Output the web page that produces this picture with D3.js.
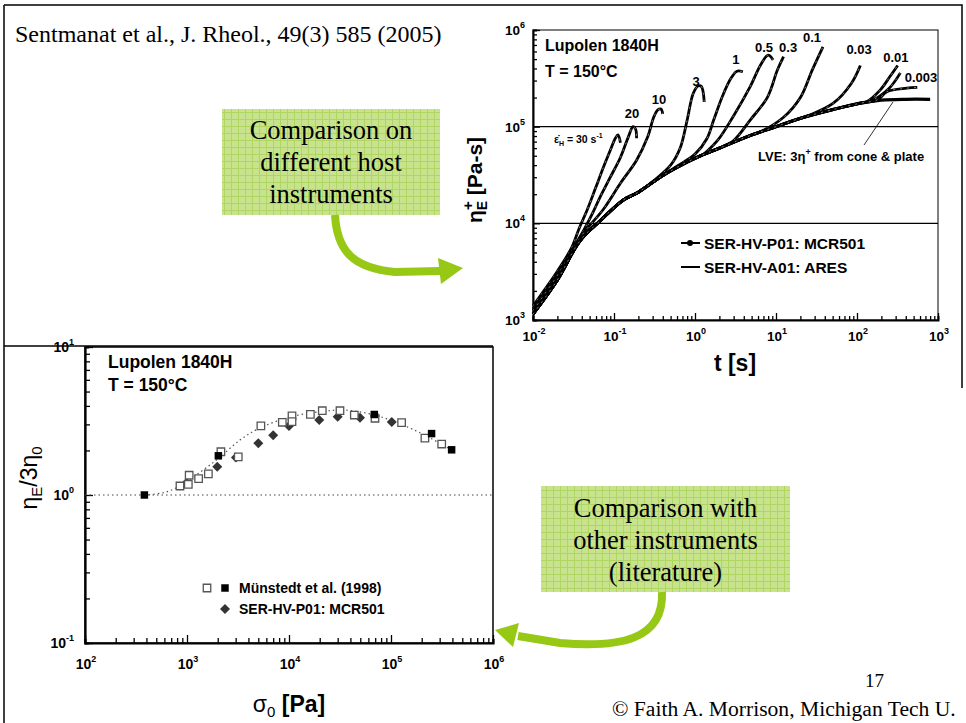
<!DOCTYPE html>
<html>
<head>
<meta charset="utf-8">
<script src="https://cdn.jsdelivr.net/npm/d3@7"></script>
<style>
  body { margin: 0; background: #fff; }
  svg { display: block; }
  .lbl { font-family: "Liberation Sans", Arial, sans-serif; font-weight: bold; }
  .serif { font-family: "Liberation Serif", "Times New Roman", serif; }
</style>
</head>
<body>
<div id="slide"></div>
<script>
// ---- top chart: eta_E+ vs t (log-log) ----
var lveT   = [0.01, 0.02, 0.038, 0.068, 0.13, 0.2, 0.37, 0.6, 1.17, 2, 5, 10, 20, 50, 110, 200, 400, 800];
var lveEta = [1.15e3, 2.6e3, 6.6e3, 1.07e4, 1.74e4, 2.1e4, 3.0e4, 3.8e4, 5.0e4, 6.0e4, 8.2e4, 1.0e5, 1.22e5, 1.5e5, 1.75e5, 1.88e5, 1.92e5, 1.92e5];

var rateLabels = ["30", "20", "10", "3", "1", "0.5", "0.3", "0.1", "0.03", "0.01", "0.01", "0.003"];
var rateCurves = [
  [[0.01,1.4e3],[0.02,3.2e3],[0.03,5.6e3],[0.037,8.8e3],[0.047,1.4e4],[0.059,2.3e4],[0.074,3.8e4],[0.09,5.7e4],[0.104,7.6e4],[0.112,8.2e4],[0.12,6.8e4]],
  [[0.01,1.3e3],[0.02,3.0e3],[0.04,7.8e3],[0.055,1.3e4],[0.068,1.9e4],[0.09,3.0e4],[0.12,4.8e4],[0.15,7.8e4],[0.172,1.0e5],[0.185,9.4e4],[0.19,7.6e4]],
  [[0.01,1.25e3],[0.02,2.9e3],[0.04,7.5e3],[0.074,1.4e4],[0.12,2.6e4],[0.19,4.5e4],[0.26,7.8e4],[0.31,1.26e5],[0.35,1.5e5],[0.38,1.52e5],[0.4,1.35e5]],
  [[0.3,2.7e4],[0.5,4.0e4],[0.66,6.1e4],[0.8,1.17e5],[0.95,2.2e5],[1.1,2.65e5],[1.2,2.6e5],[1.3,1.8e5]],
  [[0.6,3.9e4],[1.0,5.2e4],[1.4,7.5e4],[1.7,1.17e5],[2.2,2.1e5],[2.8,3.2e5],[3.3,3.75e5],[3.9,3.7e5]],
  [[1.2,5.0e4],[1.9,7.2e4],[3.0,1.3e5],[4.8,2.6e5],[6.5,4.4e5],[8.0,5.5e5],[9.2,4.9e5]],
  [[2.0,6.0e4],[3.0,7.2e4],[4.8,1.17e5],[7.8,2.0e5],[10.4,3.85e5],[12.4,5.3e5]],
  [[6,8.6e4],[12.4,1.25e5],[20,2.0e5],[28,3.85e5],[38,6.7e5]],
  [[25,1.3e5],[51,1.75e5],[85,2.8e5],[110,4.3e5]],
  [[130,1.8e5],[194,2.4e5],[255,3.3e5],[318,4.3e5]],
  [[150,1.85e5],[250,2.5e5],[343,3.6e5]],
  [[180,1.9e5],[234,2.3e5],[410,2.5e5],[555,2.55e5]]
];
// where each rate number sits [t, eta] (text baseline)
var rateLabelAt = [null, [0.167,1.22e5],[0.36,1.71e5],[1.03,2.63e5],[3.2,4.45e5],[7.1,5.92e5],[14.1,5.92e5],[27.8,7.5e5],[106,5.64e5],[302,4.66e5],null,[617,2.9e5]];

// ---- bottom chart: eta_E/3eta_0 vs sigma_0 ----
var openSig   = [853, 1050, 1030, 1300, 1620, 2150, 3180, 5300, 8600, 10700, 10700, 16200, 21200, 31600, 43700, 69700, 127000, 215000, 314000];
var openVal   = [1.15, 1.36, 1.18, 1.29, 1.39, 1.96, 1.81, 2.93, 3.1, 3.42, 3.13, 3.51, 3.71, 3.71, 3.47, 3.3, 3.08, 2.42, 2.21];
var filledSig = [382, 2030, 68600, 250000, 393000];
var filledVal = [1.0, 1.84, 3.5, 2.6, 2.02];
var serSig    = [990, 1980, 3020, 5000, 7000, 10000, 19800, 30000, 49700, 69700, 101700];
var serVal    = [1.21, 1.55, 1.79, 2.24, 2.53, 2.93, 3.21, 3.38, 3.33, 3.42, 3.11];
var fitSig    = [382, 600, 850, 1200, 2000, 3300, 5000, 10000, 20000, 35000, 60000, 100000, 200000, 400000];
var fitVal    = [1.0, 1.04, 1.15, 1.35, 1.75, 2.35, 2.8, 3.35, 3.65, 3.75, 3.55, 3.2, 2.6, 2.0];

var W = 966, H = 723;
var svg = d3.select("#slide").append("svg").attr("width", W).attr("height", H);
var green = "#97c815";

// grid pattern for the callout boxes
var defs = svg.append("defs");
var pat = defs.append("pattern").attr("id","grid").attr("width",7).attr("height",7).attr("patternUnits","userSpaceOnUse");
pat.append("rect").attr("width",7).attr("height",7).attr("fill","#c8e38d");
pat.append("path").attr("d","M0,0.5H7M0.5,0V7").attr("stroke","#b0d563").attr("stroke-width",1);

// slide frame
svg.append("path").attr("d","M4,5H962V388").attr("fill","none").attr("stroke","#000").attr("stroke-width",1.5);
svg.append("path").attr("d","M4,5V723").attr("fill","none").attr("stroke","#000").attr("stroke-width",1.5);
svg.append("path").attr("d","M4,346H493").attr("fill","none").attr("stroke","#000").attr("stroke-width",1.5);

svg.append("text").attr("class","serif").attr("x",15).attr("y",42).attr("font-size",24)
  .text("Sentmanat et al., J. Rheol., 49(3) 585 (2005)");
svg.append("text").attr("class","serif").attr("x",865).attr("y",687).attr("font-size",19).text("17");
svg.append("text").attr("class","serif").attr("x",612).attr("y",716).attr("font-size",21.6)
  .text("\u00A9 Faith A. Morrison, Michigan Tech U.");

function isMajor(d){ return Math.abs(Math.log10(d) - Math.round(Math.log10(d))) < 1e-6; }
function pow10(sel, e){
  sel.append("tspan").text("10");
  sel.append("tspan").attr("dy",-7).attr("font-size",9).text(e);
}

// ================= top chart =================
var xT = d3.scaleLog().domain([1e-2, 1e3]).range([533, 938]);
var yT = d3.scaleLog().domain([1e3, 1e6]).range([320, 30]);
var gT = svg.append("g");

gT.append("rect").attr("x",533).attr("y",30).attr("width",405).attr("height",290)
  .attr("fill","none").attr("stroke","#000").attr("stroke-width",1);
[1e4, 1e5].forEach(function(v){
  gT.append("line").attr("x1",533).attr("x2",938).attr("y1",yT(v)).attr("y2",yT(v))
    .attr("stroke","#000").attr("stroke-width",1.4);
});

var axXT = gT.append("g").attr("transform","translate(0,320)")
  .call(d3.axisBottom(xT).tickValues(xT.ticks()).tickSize(-4).tickFormat(""));
var axYT = gT.append("g").attr("transform","translate(533,0)")
  .call(d3.axisLeft(yT).tickValues(yT.ticks()).tickSize(-4).tickFormat(""));
[axXT, axYT].forEach(function(a){
  a.select(".domain").attr("stroke-width",2);
  a.selectAll(".tick line").attr("stroke-width",1.3);
});
axXT.selectAll(".tick line").attr("y2", function(d){ return isMajor(d) ? -7 : -4; });
axYT.selectAll(".tick line").attr("x2", function(d){ return isMajor(d) ? 7 : 4; });

xT.ticks().filter(isMajor).forEach(function(d){
  var t = gT.append("text").attr("class","lbl").attr("x",xT(d)+1).attr("y",341)
    .attr("text-anchor","middle").attr("font-size",13.5);
  pow10(t, Math.round(Math.log10(d)));
});
yT.ticks().filter(isMajor).forEach(function(d){
  var t = gT.append("text").attr("class","lbl").attr("x",525).attr("y",yT(d)+5)
    .attr("text-anchor","end").attr("font-size",13.5);
  pow10(t, Math.round(Math.log10(d)));
});

var lineT = d3.line().x(function(p){ return xT(p[0]); }).y(function(p){ return yT(p[1]); })
  .curve(d3.curveCatmullRom.alpha(0.5));
var lvePts = lveT.map(function(t,i){ return [t, lveEta[i]]; });
gT.append("path").datum(lvePts).attr("d", lineT).attr("fill","none")
  .attr("stroke","#000").attr("stroke-width",3.2);
rateCurves.forEach(function(c){
  var pts = lvePts.filter(function(p){ return p[0] < c[0][0]; }).concat(c);
  gT.append("path").datum(pts).attr("d", lineT).attr("fill","none")
    .attr("stroke","#000").attr("stroke-width",2.8).attr("stroke-linejoin","round");
  gT.append("path").datum(pts).attr("d", lineT).attr("fill","none")
    .attr("stroke","#fff").attr("stroke-width",0.5).attr("stroke-dasharray","2,5");
});
rateLabels.forEach(function(r,i){
  if (!rateLabelAt[i]) return;
  gT.append("text").attr("class","lbl").attr("font-size",13).attr("text-anchor","middle")
    .attr("x", xT(rateLabelAt[i][0])).attr("y", yT(rateLabelAt[i][1])).text(r);
});
var eps = gT.append("text").attr("class","lbl").attr("x",554).attr("y",143).attr("font-size",10.5);
eps.append("tspan").text("\u03B5\u0307");
eps.append("tspan").attr("font-size",7).attr("dy",3).text("H");
eps.append("tspan").attr("dy",-3).text(" = 30 s");
eps.append("tspan").attr("font-size",7).attr("dy",-5).text("-1");

gT.append("text").attr("class","lbl").attr("x",545).attr("y",51).attr("font-size",16).text("Lupolen 1840H");
gT.append("text").attr("class","lbl").attr("x",545).attr("y",77).attr("font-size",16).text("T = 150\u00B0C");

var lve = gT.append("text").attr("class","lbl").attr("x",758).attr("y",161).attr("font-size",13);
lve.append("tspan").text("LVE: 3\u03B7");
lve.append("tspan").attr("font-size",9).attr("dy",-6).text("+");
lve.append("tspan").attr("dy",6).text(" from cone & plate");
gT.append("line").attr("x1",864).attr("y1",145).attr("x2",893).attr("y2",102)
  .attr("stroke","#000").attr("stroke-width",0.8);

gT.append("line").attr("x1",681).attr("x2",700).attr("y1",243).attr("y2",243).attr("stroke","#000").attr("stroke-width",2);
gT.append("circle").attr("cx",690).attr("cy",243).attr("r",3).attr("fill","#000");
gT.append("text").attr("class","lbl").attr("x",704).attr("y",248.5).attr("font-size",15.5).text("SER-HV-P01: MCR501");
gT.append("line").attr("x1",681).attr("x2",700).attr("y1",267).attr("y2",267).attr("stroke","#000").attr("stroke-width",2);
gT.append("text").attr("class","lbl").attr("x",704).attr("y",272.5).attr("font-size",15.5).text("SER-HV-A01: ARES");

var ytT = gT.append("text").attr("class","lbl").attr("font-size",21).attr("text-anchor","middle")
  .attr("transform","translate(482,180) rotate(-90)");
ytT.append("tspan").text("\u03B7");
ytT.append("tspan").attr("font-size",14).attr("dy",5).text("E");
ytT.append("tspan").attr("font-size",15).attr("dy",-14).attr("dx",-9).text("+");
ytT.append("tspan").attr("dy",9).text(" [Pa-s]");
gT.append("text").attr("class","lbl").attr("x",735).attr("y",371).attr("font-size",23)
  .attr("text-anchor","middle").text("t [s]");

// ================= bottom chart =================
var xB = d3.scaleLog().domain([1e2, 1e6]).range([85, 493]);
var yB = d3.scaleLog().domain([1e-1, 1e1]).range([643, 347]);
var gB = svg.append("g");

gB.append("rect").attr("x",85).attr("y",347).attr("width",408).attr("height",296)
  .attr("fill","none").attr("stroke","#000").attr("stroke-width",1.5);
var axXB = gB.append("g").attr("transform","translate(0,643)")
  .call(d3.axisBottom(xB).tickValues(xB.ticks()).tickSize(-4).tickFormat(""));
var axYB = gB.append("g").attr("transform","translate(85,0)")
  .call(d3.axisLeft(yB).tickValues(yB.ticks()).tickSize(-4).tickFormat(""));
[axXB, axYB].forEach(function(a){
  a.select(".domain").attr("stroke-width",2.2);
  a.selectAll(".tick line").attr("stroke-width",1.3);
});
axXB.selectAll(".tick line").attr("y2", function(d){ return isMajor(d) ? -8 : -5; });
axYB.selectAll(".tick line").attr("x2", function(d){ return isMajor(d) ? 8 : 5; });
xB.ticks().filter(isMajor).forEach(function(d){
  var t = gB.append("text").attr("class","lbl").attr("x",xB(d)+1).attr("y",669)
    .attr("text-anchor","middle").attr("font-size",14);
  pow10(t, Math.round(Math.log10(d)));
});
yB.ticks().filter(isMajor).forEach(function(d){
  var t = gB.append("text").attr("class","lbl").attr("x",74).attr("y",yB(d)+5)
    .attr("text-anchor","end").attr("font-size",14);
  pow10(t, Math.round(Math.log10(d)));
});

gB.append("line").attr("x1",85).attr("x2",493).attr("y1",yB(1)).attr("y2",yB(1))
  .attr("stroke","#444").attr("stroke-width",1.2).attr("stroke-dasharray","1.5,3");
var lineB = d3.line().x(function(p){ return xB(p[0]); }).y(function(p){ return yB(p[1]); })
  .curve(d3.curveCatmullRom.alpha(0.5));
gB.append("path").datum(fitSig.map(function(s,i){ return [s, fitVal[i]]; })).attr("d", lineB)
  .attr("fill","none").attr("stroke","#555").attr("stroke-width",1.2).attr("stroke-dasharray","1.5,3");

var sq = d3.symbol().type(d3.symbolSquare).size(56);
var dm = d3.symbol().type(d3.symbolSquare).size(50);
function diamondAt(x, y){ return "translate(" + x + "," + y + ") rotate(45)"; }
serSig.forEach(function(s,i){
  gB.append("path").attr("d", dm).attr("transform", diamondAt(xB(s), yB(serVal[i]))).attr("fill","#333");
});
openSig.forEach(function(s,i){
  gB.append("path").attr("d", sq).attr("transform","translate("+xB(s)+","+yB(openVal[i])+")")
    .attr("fill","#fff").attr("stroke","#555").attr("stroke-width",1.3);
});
filledSig.forEach(function(s,i){
  gB.append("path").attr("d", sq).attr("transform","translate("+xB(s)+","+yB(filledVal[i])+")").attr("fill","#000");
});

gB.append("text").attr("class","lbl").attr("x",108).attr("y",368).attr("font-size",17.5).text("Lupolen 1840H");
gB.append("text").attr("class","lbl").attr("x",108).attr("y",391).attr("font-size",17.5).text("T = 150\u00B0C");

gB.append("path").attr("d", sq).attr("transform","translate(207,588)").attr("fill","#fff").attr("stroke","#555").attr("stroke-width",1.3);
gB.append("path").attr("d", sq).attr("transform","translate(225,588)").attr("fill","#000");
gB.append("text").attr("class","lbl").attr("x",239).attr("y",593).attr("font-size",14).text("M\u00FCnstedt et al. (1998)");
gB.append("path").attr("d", dm).attr("transform", diamondAt(225, 609)).attr("fill","#333");
gB.append("text").attr("class","lbl").attr("x",239).attr("y",614).attr("font-size",14).text("SER-HV-P01: MCR501");

var ytB = gB.append("text").attr("font-family","Liberation Sans, Arial, sans-serif").attr("font-size",23)
  .attr("text-anchor","middle").attr("transform","translate(37,478) rotate(-90)");
ytB.append("tspan").text("\u03B7");
ytB.append("tspan").attr("font-size",15).attr("dy",5).text("E");
ytB.append("tspan").attr("dy",-5).text("/3\u03B7");
ytB.append("tspan").attr("font-size",15).attr("dy",5).text("0");
var xtB = gB.append("text").attr("font-family","Liberation Sans, Arial, sans-serif").attr("font-size",23)
  .attr("text-anchor","middle").attr("x",289).attr("y",712);
xtB.append("tspan").text("\u03C3");
xtB.append("tspan").attr("font-size",15).attr("dy",5).text("0");
xtB.append("tspan").attr("dy",-5).attr("font-weight","bold").text(" [Pa]");

// ================= callouts =================
function callout(x, y, w, h, lines, base){
  svg.append("rect").attr("x",x).attr("y",y).attr("width",w).attr("height",h).attr("fill","url(#grid)");
  lines.forEach(function(s,i){
    svg.append("text").attr("class","serif").attr("x",x+w/2).attr("y",base[i]).attr("font-size",26.5)
      .attr("text-anchor","middle").text(s);
  });
}
callout(222, 109, 218, 106, ["Comparison on", "different host", "instruments"], [139, 171, 203]);
callout(541, 486, 249, 106, ["Comparison with", "other instruments", "(literature)"], [517, 549, 581]);

svg.append("path").attr("d","M335,215C337,250 352,268 395,272L440,271")
  .attr("fill","none").attr("stroke",green).attr("stroke-width",8);
svg.append("path").attr("d","M438,258L463,268L441,284Z").attr("fill",green);
svg.append("path").attr("d","M662,592C664,640 620,648 560,643L518,636")
  .attr("fill","none").attr("stroke",green).attr("stroke-width",8);
svg.append("path").attr("d","M519,623L495,630L513,647Z").attr("fill",green);
</script>
</body>
</html>
